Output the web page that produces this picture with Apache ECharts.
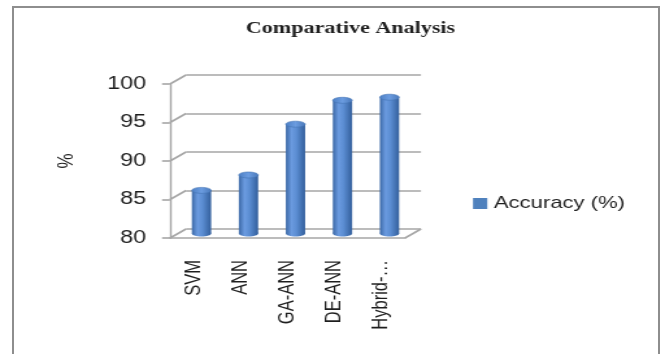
<!DOCTYPE html>
<html>
<head>
<meta charset="utf-8">
<script src="https://cdn.jsdelivr.net/npm/echarts@6/dist/echarts.min.js"></script>
<style>
  html, body { margin: 0; padding: 0; background: #fff; overflow: hidden; }
  #frame { position: absolute; left: 12px; top: 6px; width: 648px; height: 400px;
           border: 2px solid #8e8e8e; border-bottom: none; box-sizing: border-box; }
  /* the chart is drawn narrower and widened with a horizontal stretch */
  #chart { position: absolute; left: 0; top: 0; width: 512px; height: 354px;
           transform: scaleX(1.2988); transform-origin: 0 0; }
</style>
</head>
<body>
<div id="frame"></div>
<div id="chart"></div>
<script>
// ---- data ----
const categories = ['SVM', 'ANN', 'GA-ANN', 'DE-ANN', 'Hybrid-…'];
const accuracy = [85.6, 87.6, 94.2, 97.3, 97.7];
const yTicks = [80, 85, 90, 95, 100];
const seriesName = 'Accuracy (%)';

// ---- layout helpers (page x is divided by the horizontal stretch) ----
const SX = 665 / 512;
const sx = v => v / SX;
const FRONT_L = sx(170), FRONT_R = sx(405);
const TOP = 84, BOTTOM = 238;
const DX = sx(16), DY = -9;          // depth offset of the back wall
const GRAY = '#a6a6a6';
const TEXT = '#1e1e1e';

const bodyFill = new echarts.graphic.LinearGradient(0, 0, 1, 0, [
  { offset: 0, color: '#3b68a6' },
  { offset: 0.3, color: '#6b9be0' },
  { offset: 0.55, color: '#5b8dd2' },
  { offset: 1, color: '#335f9c' }
]);
const capFill = new echarts.graphic.LinearGradient(0, 0, 1, 0, [
  { offset: 0, color: '#4d7fc4' },
  { offset: 0.5, color: '#6b9ce0' },
  { offset: 1, color: '#4a79ba' }
]);

const chart = echarts.init(document.getElementById('chart'), null, { renderer: 'canvas' });

chart.setOption({
  animation: false,
  title: {
    text: 'Comparative Analysis',
    left: sx(350.5), top: 20, padding: 0, textAlign: 'center',
    textStyle: { fontFamily: 'Liberation Serif', fontWeight: 'bold', fontSize: 17, color: TEXT }
  },
  legend: {
    data: [seriesName],
    left: sx(473), top: 195, padding: 0,
    icon: 'rect', itemWidth: 11, itemHeight: 11,
    textStyle: { fontFamily: 'Liberation Sans', fontSize: 17, color: TEXT }
  },
  grid: [
    { left: FRONT_L, top: TOP, width: FRONT_R - FRONT_L, height: BOTTOM - TOP },
    { left: FRONT_L + DX, top: TOP + DY, width: FRONT_R - FRONT_L, height: BOTTOM - TOP }
  ],
  xAxis: [
    {
      type: 'category', gridIndex: 0, data: categories,
      axisLine: { show: true, lineStyle: { color: GRAY, width: 1.6 } },
      axisTick: { show: false },
      axisLabel: { rotate: 90, margin: 22, fontFamily: 'Liberation Sans', fontSize: 16.5, color: TEXT }
    },
    { type: 'category', gridIndex: 1, data: categories, show: false }
  ],
  yAxis: [
    {
      type: 'value', gridIndex: 0, min: 80, max: 100, interval: 5,
      name: '%', nameLocation: 'middle', nameGap: sx(170 - 78),
      nameTextStyle: { fontFamily: 'Liberation Sans', fontSize: 17, color: TEXT },
      axisLine: { show: true, lineStyle: { color: GRAY, width: 1.4 } },
      axisTick: { show: true, length: sx(8), lineStyle: { color: GRAY, width: 1.6 } },
      splitLine: { show: false },
      axisLabel: { margin: sx(24), fontFamily: 'Liberation Sans', fontSize: 18, color: TEXT }
    },
    {
      type: 'value', gridIndex: 1, min: 80, max: 100, interval: 5,
      axisLine: { show: false }, axisTick: { show: false }, axisLabel: { show: false },
      splitLine: { show: true, lineStyle: { color: GRAY, width: 1.6 } }
    }
  ],
  series: [
    {
      // diagonal edges joining the front axis to the back wall
      name: 'frame', type: 'custom', xAxisIndex: 0, yAxisIndex: 0,
      silent: true, clip: false, z: 1,
      data: yTicks.map(v => [0, v]),
      renderItem(params, api) {
        const p = api.coord([0, api.value(1)]);
        const band = api.size([1, 0])[0];
        const left = p[0] - band / 2;
        const children = [{
          type: 'line',
          shape: { x1: left, y1: p[1], x2: left + DX, y2: p[1] + DY },
          style: { stroke: GRAY, lineWidth: 1.6 }
        }];
        if (params.dataIndex === 0) {
          const right = left + band * categories.length;
          children.push({
            type: 'line',
            shape: { x1: right, y1: p[1], x2: right + DX, y2: p[1] + DY },
            style: { stroke: GRAY, lineWidth: 1.6 }
          });
        }
        return { type: 'group', children };
      }
    },
    {
      // cylinders standing halfway into the depth
      name: seriesName, type: 'custom', xAxisIndex: 0, yAxisIndex: 0,
      clip: false, z: 3,
      itemStyle: { color: '#4f81bd' },
      data: accuracy.map((v, i) => [i, v]),
      renderItem(params, api) {
        const i = api.value(0), v = api.value(1);
        const top = api.coord([i, v]);
        const base = api.coord([i, 80]);
        const cx = top[0] + DX / 2;
        const ty = top[1] + DY / 2;
        const by = base[1] + DY / 2;
        const w = sx(19.3), ry = 3;
        return {
          type: 'group',
          children: [
            { type: 'ellipse', shape: { cx, cy: by, rx: w / 2, ry }, style: { fill: bodyFill } },
            { type: 'rect', shape: { x: cx - w / 2, y: ty, width: w, height: by - ty }, style: { fill: bodyFill } },
            { type: 'ellipse', shape: { cx, cy: ty, rx: w / 2, ry },
              style: { fill: capFill, stroke: '#4373b4', lineWidth: 0.6 } }
          ]
        };
      }
    }
  ]
});
</script>
</body>
</html>
